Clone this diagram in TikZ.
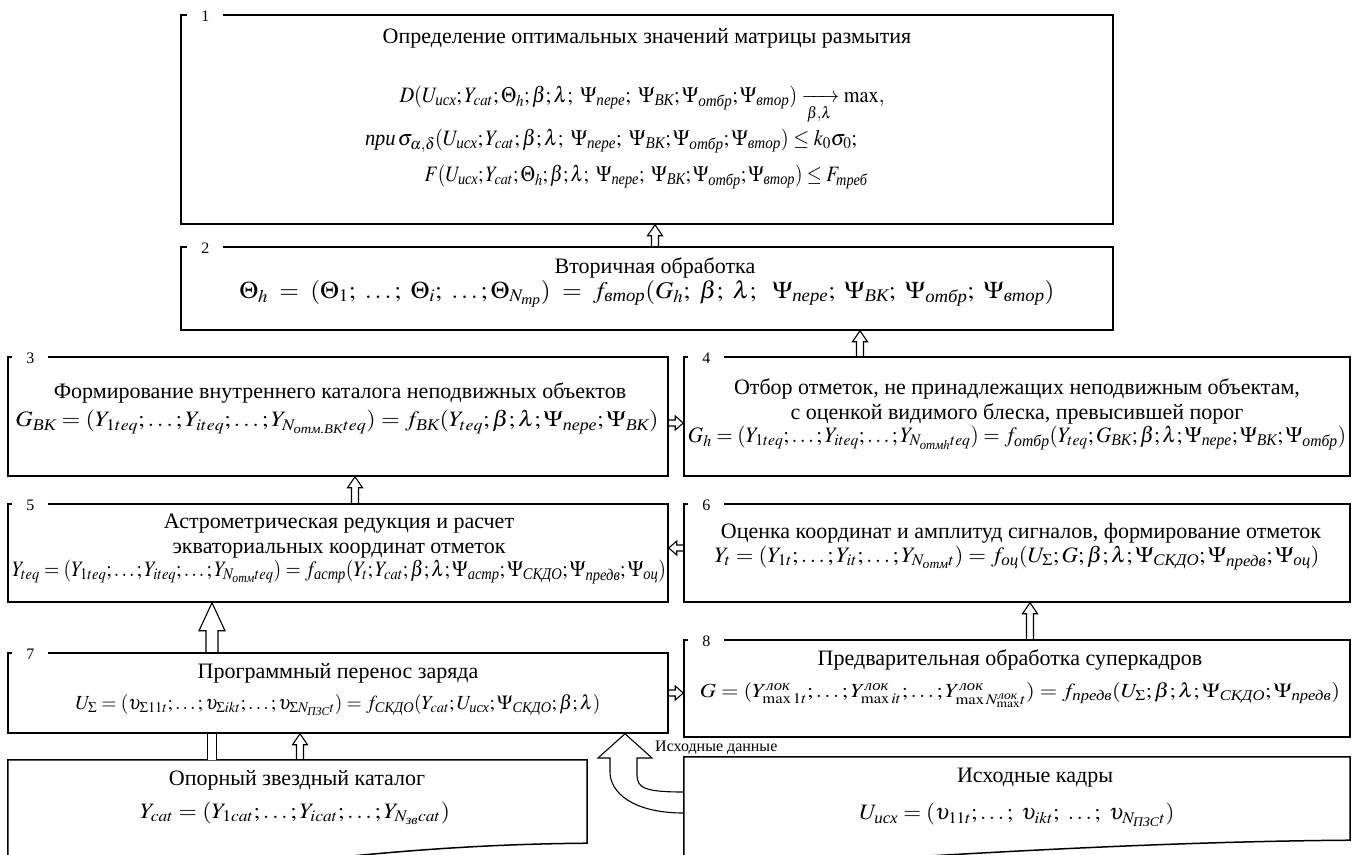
\documentclass[tikz,border=0pt]{standalone}
\usepackage{amsmath}
\usepackage{mathptmx}
\usepackage[no-math]{fontspec}
\setmainfont{Liberation Serif}
\usepackage{graphicx}
\usetikzlibrary{calc,fit}

\tikzset{
  box/.style={draw, line width=1.5pt, inner sep=0pt},
  numlbl/.style={fill=white, inner sep=0pt, minimum width=36pt, minimum height=8pt,
    font=\fontsize{16}{16}\selectfont},
  txt/.style={inner sep=0pt, align=center, font=\fontsize{22}{25}\selectfont},
  hollow/.style={draw, line width=1.1pt, line join=miter},
  lbl/.style={inner sep=0pt, font=\fontsize{16}{16}\selectfont},
}

\newcommand{\ru}[1]{\text{\itshape #1}}
\newcommand{\fitw}[2]{\resizebox{#1}{\height}{#2}}
% hollow arrow going up: start, tip, shaft half width, head half width, head length
\newcommand{\uparr}[5]{%
  \draw[hollow] let \p1=#1, \p2=#2 in
    ({\x1-#3pt},\y1) -- ({\x1-#3pt},{\y2-#5pt}) -- ({\x1-#4pt},{\y2-#5pt}) -- (\x1,\y2)
    -- ({\x1+#4pt},{\y2-#5pt}) -- ({\x1+#3pt},{\y2-#5pt}) -- ({\x1+#3pt},\y1);}
% hollow arrow going sideways (negative head length points left)
\newcommand{\sidearr}[5]{%
  \draw[hollow] let \p1=#1, \p2=#2 in
    (\x1,{\y1-#3pt}) -- ({\x2-(#5pt)},{\y1-#3pt}) -- ({\x2-(#5pt)},{\y1-#4pt}) -- (\x2,\y1)
    -- ({\x2-(#5pt)},{\y1+#4pt}) -- ({\x2-(#5pt)},{\y1+#3pt}) -- (\x1,{\y1+#3pt});}

\begin{document}
\begin{tikzpicture}[x=1pt,y=-1pt]
  \useasboundingbox (0,0) rectangle (1356,854);

  % blocks
  \node[box, fit={(181,15) (1113,224)}] (b1) {};
  \node[box, fit={(181,247) (1113,330)}] (b2) {};
  \node[box, fit={(8,357) (668,476)}] (b3) {};
  \node[box, fit={(684,357) (1350,476)}] (b4) {};
  \node[box, fit={(8,504) (668,602)}] (b5) {};
  \node[box, fit={(684,504) (1350,602)}] (b6) {};
  \node[box, fit={(8,653) (668,733)}] (b7) {};
  \node[box, fit={(684,640) (1350,737)}] (b8) {};
  \node[inner sep=0pt, fit={(8,760) (587,843)}] (cat) {};
  \node[inner sep=0pt, fit={(684,757) (1350,840)}] (src) {};

  % document-like blocks at the bottom
  \draw[line width=1.5pt] (8,890) -- (cat.north west) -- (cat.north east) -- (cat.south east)
    .. controls (350,845) and (200,880) .. (8,890);
  \draw[line width=1.5pt] (684,870) -- (src.north west) -- (src.north east) -- (src.south east)
    .. controls (1100,842) and (850,862) .. (684,870);

  % numbers
  \node[numlbl] (n1) at ([xshift=25pt,yshift=-2pt]b1.north west) {1};
  \node[numlbl] (n2) at ([xshift=25pt,yshift=-2pt]b2.north west) {2};
  \node[numlbl] (n3) at ([xshift=23pt,yshift=-2pt]b3.north west) {3};
  \node[numlbl] (n4) at ([xshift=23pt,yshift=-2pt]b4.north west) {4};
  \node[numlbl] (n5) at ([xshift=23pt,yshift=-2pt]b5.north west) {5};
  \node[numlbl] (n6) at ([xshift=23pt,yshift=-2pt]b6.north west) {6};
  \node[numlbl] (n7) at ([xshift=23pt,yshift=-2pt]b7.north west) {7};
  \node[numlbl] (n8) at ([xshift=23pt,yshift=-2pt]b8.north west) {8};

  % block 1
  \node[txt] (t1) at (647,38) {Определение оптимальных значений матрицы размытия};
  \node[txt] (f1a) at (642,105) {\fitw{485pt}{$D(U_{\ru{исх}};Y_{cat};\Theta_h;\beta;\lambda;\ \Psi_{\ru{пере}};\ \Psi_{\ru{ВК}};\Psi_{\ru{отбр}};\Psi_{\ru{втор}})\xrightarrow[\beta,\lambda]{\hspace{28pt}}\max,$}};
  \node[txt] (f1b) at (611,141) {\fitw{492pt}{$\ru{при}\,\sigma_{\alpha,\delta}(U_{\ru{исх}};Y_{cat};\beta;\lambda;\ \Psi_{\ru{пере}};\ \Psi_{\ru{ВК}};\Psi_{\ru{отбр}};\Psi_{\ru{втор}})\le k_0\sigma_0;$}};
  \node[txt] (f1c) at (646,177) {\fitw{443pt}{$F(U_{\ru{исх}};Y_{cat};\Theta_h;\beta;\lambda;\ \Psi_{\ru{пере}};\ \Psi_{\ru{ВК}};\Psi_{\ru{отбр}};\Psi_{\ru{втор}})\le F_{\ru{треб}}$}};

  % block 2
  \node[txt] (t2) at (655,268) {Вторичная обработка};
  \node[txt, font=\fontsize{24}{26}\selectfont] (f2) at (647,294) {\fitw{815pt}{$\Theta_h\;=\;(\Theta_1;\ \ldots;\ \Theta_i;\ \ldots;\Theta_{N_{\ru{тр}}})\;=\;f_{\ru{втор}}(G_h;\ \beta;\ \lambda;\ \ \Psi_{\ru{пере}};\ \Psi_{\ru{ВК}};\ \Psi_{\ru{отбр}};\ \Psi_{\ru{втор}})$}};

  % block 3
  \node[txt] (t3) at (340,393) {Формирование внутреннего каталога неподвижных объектов};
  \node[txt] (f3) at (337,422) {\fitw{643pt}{$G_{\ru{ВК}}=(Y_{1teq};\ldots;Y_{iteq};\ldots;Y_{N_{\ru{отм.ВК}}teq})=f_{\ru{ВК}}(Y_{teq};\beta;\lambda;\Psi_{\ru{пере}};\Psi_{\ru{ВК}})$}};

  % block 4
  \node[txt] (t4) at (1017,401) {Отбор отметок, не принадлежащих неподвижным объектам,\\
    с оценкой видимого блеска, превысившей порог};
  \node[txt] (f4) at (1017,438) {\fitw{658pt}{$G_h=(Y_{1teq};\ldots;Y_{iteq};\ldots;Y_{N_{\ru{отм}h}teq})=f_{\ru{отбр}}(Y_{teq};G_{\ru{ВК}};\beta;\lambda;\Psi_{\ru{пере}};\Psi_{\ru{ВК}};\Psi_{\ru{отбр}})$}};

  % block 5
  \node[txt] (t5) at (339,536) {Астрометрическая редукция и расчет\\ экваториальных координат отметок};
  \node[txt] (f5) at (339,572) {\fitw{654pt}{$Y_{teq}=(Y_{1teq};\ldots;Y_{iteq};\ldots;Y_{N_{\ru{отм}}teq})=f_{\ru{астр}}(Y_t;Y_{cat};\beta;\lambda;\Psi_{\ru{астр}};\Psi_{\ru{СКДО}};\Psi_{\ru{предв}};\Psi_{\ru{оц}})$}};

  % block 6
  \node[txt] (t6) at (1021,533) {Оценка координат и амплитуд сигналов, формирование отметок};
  \node[txt] (f6) at (1017,558) {\fitw{605pt}{$Y_t=(Y_{1t};\ldots;Y_{it};\ldots;Y_{N_{\ru{отм}}t})=f_{\ru{оц}}(U_\Sigma;G;\beta;\lambda;\Psi_{\ru{СКДО}};\Psi_{\ru{предв}};\Psi_{\ru{оц}})$}};

  % block 7
  \node[txt] (t7) at (338,673) {Программный перенос заряда};
  \node[txt, font=\fontsize{20}{22}\selectfont] (f7) at (338,705) {\fitw{525pt}{$U_\Sigma=(\upsilon_{\Sigma 11t};\ldots;\upsilon_{\Sigma ikt};\ldots;\upsilon_{\Sigma N_{\ru{ПЗС}}t})=f_{\ru{СКДО}}(Y_{cat};U_{\ru{исх}};\Psi_{\ru{СКДО}};\beta;\lambda)$}};

  % block 8
  \node[txt] (t8) at (1010,660) {Предварительная обработка суперкадров};
  \node[txt, font=\fontsize{20}{22}\selectfont] (f8) at (1020,695) {\fitw{640pt}{$G=(Y^{\ru{лок}}_{\max 1t};\ldots;Y^{\ru{лок}}_{\max it};\ldots;Y^{\ru{лок}}_{\max N^{\ru{лок}}_{\max}t})=f_{\ru{предв}}(U_\Sigma;\beta;\lambda;\Psi_{\ru{СКДО}};\Psi_{\ru{предв}})$}};

  % input blocks
  \node[txt] (tcat) at (297,780) {Опорный звездный каталог};
  \node[txt] (fcat) at (295,813) {\fitw{310pt}{$Y_{cat}=(Y_{1cat};\ldots;Y_{icat};\ldots;Y_{N_{\ru{зв}}cat})$}};
  \node[txt] (tsrc) at (1035,778) {Исходные кадры};
  \node[txt] (fsrc) at (1017,815) {\fitw{315pt}{$U_{\ru{исх}}=(\upsilon_{11t};\ldots;\ \upsilon_{ikt};\ \ldots;\ \upsilon_{N_{\ru{ПЗС}}t})$}};

  % connectors
  \uparr{(b2.north -| 655,0)}{(b1.south -| 655,0)}{3.5}{7.5}{11}
  \uparr{(b4.north -| 860,0)}{(b2.south -| 860,0)}{3.5}{7.5}{11}
  \uparr{(b5.north -| 355,0)}{(b3.south -| 355,0)}{3.5}{7.5}{11}
  \uparr{(b8.north -| 1030,0)}{(b6.south -| 1030,0)}{3.5}{7.5}{11}
  \uparr{(b7.north -| 212,0)}{(b5.south -| 212,0)}{6}{13}{28}
  \uparr{(cat.north -| 300,0)}{(b7.south -| 300,0)}{3.5}{7.5}{11}
  \draw[line width=1.1pt, double, double distance=8pt] (cat.north -| 212,0) -- (b7.south -| 212,0);
  \sidearr{(b3.east |- 0,423)}{(b4.west |- 0,423)}{3}{7}{8}
  \sidearr{(b6.west |- 0,548)}{(b5.east |- 0,548)}{3}{7}{-8}
  \sidearr{(b7.east |- 0,693)}{(b8.west |- 0,693)}{3}{7}{8}

  % input data arrow
  \draw[hollow] (b7.south -| 625,0) -- (652,758) -- (637,758) -- (637,775)
    .. controls (637,788) and (645,792) .. (src.west |- 0,792);
  \draw[hollow] (src.west |- 0,813) .. controls (632,813) and (610,792) .. (610,772)
    -- (610,758) -- (598,758) -- (b7.south -| 625,0);
  \node[lbl, anchor=west] (lsrc) at (655,748) {Исходные данные};
\end{tikzpicture}
\end{document}
